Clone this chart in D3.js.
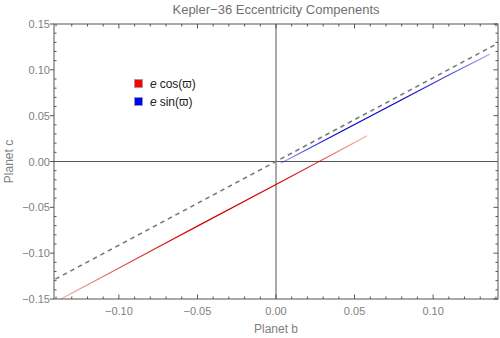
<!DOCTYPE html>
<html><head><meta charset="utf-8">
<script src="https://cdn.jsdelivr.net/npm/d3@7"></script>
<style>body{margin:0;background:#fff}svg{display:block}</style>
</head><body>
<svg id="c" width="500" height="338"></svg>
<script>
const title = "Kepler\u221236 Eccentricity Compenents";
const xLabel = "Planet b", yLabel = "Planet c";
const xTicks = [-0.10, -0.05, 0.00, 0.05, 0.10];
const yTicks = [-0.15, -0.10, -0.05, 0.00, 0.05, 0.10, 0.15];
// dashed reference line
const refX = [-0.15, 0.15];
const refY = [-0.137, 0.137];
// e cos(w) line with shading intensity along it
const cosX = [-0.137, -0.11, -0.08, -0.05, 0.00, 0.02, 0.04, 0.058];
const cosY = [-0.150, -0.1255, -0.098, -0.0705, -0.025, -0.0068, 0.0115, 0.028];
const cosA = [0.3, 0.55, 0.85, 1, 1, 0.8, 0.5, 0.3];
// e sin(w) line
const sinX = [0.003, 0.02, 0.04, 0.08, 0.11, 0.136];
const sinY = [-0.002, 0.0133, 0.0313, 0.0673, 0.0943, 0.117];
const sinA = [0.35, 0.7, 1, 1, 0.7, 0.35];
const legendLabels = ["cos(\u03d6)", "sin(\u03d6)"];
const legendColors = ["#ff0000", "#0000ff"];

const svg = d3.select("#c");
const L = 54, R = 498, T = 24, B = 299;
const x = d3.scaleLinear().domain([-0.1413, 0.1413]).range([L, R]);
const y = d3.scaleLinear().domain([-0.15, 0.15]).range([B, T]);
const frameC = "#555", txtC = "#808080";
const font = "'Liberation Sans', Arial, sans-serif";

const defs = svg.append("defs");
defs.append("clipPath").attr("id","clip").append("rect")
  .attr("x",L).attr("y",T).attr("width",R-L).attr("height",B-T);

// zero axes
svg.append("line").attr("x1",x(0)).attr("x2",x(0)).attr("y1",T).attr("y2",B)
  .attr("stroke",frameC).attr("stroke-width",1);
svg.append("line").attr("x1",L).attr("x2",R).attr("y1",y(0)).attr("y2",y(0))
  .attr("stroke",frameC).attr("stroke-width",1);

const g = svg.append("g").attr("clip-path","url(#clip)");
const line = d3.line().x(d=>x(d[0])).y(d=>y(d[1]));

function gradLine(id, xs, ys, as, color, w){
  const grad = defs.append("linearGradient").attr("id",id)
    .attr("gradientUnits","userSpaceOnUse")
    .attr("x1",x(xs[0])).attr("y1",y(ys[0]))
    .attr("x2",x(xs[xs.length-1])).attr("y2",y(ys[ys.length-1]));
  const span = xs[xs.length-1]-xs[0];
  xs.forEach((v,i)=>grad.append("stop").attr("offset",(v-xs[0])/span)
    .attr("stop-color",color).attr("stop-opacity",as[i]));
  g.append("path").datum(xs.map((v,i)=>[v,ys[i]])).attr("d",line)
    .attr("fill","none").attr("stroke",`url(#${id})`).attr("stroke-width",w);
}
g.append("path").datum(refX.map((v,i)=>[v,refY[i]])).attr("d",line)
  .attr("fill","none").attr("stroke","#7a7a7a").attr("stroke-width",1.6)
  .attr("stroke-dasharray","4.5,4");
gradLine("gc", cosX, cosY, cosA, "#d00000", 1.2);
gradLine("gs", sinX, sinY, sinA, "#0000d0", 1.2);

// frame
svg.append("rect").attr("x",L).attr("y",T).attr("width",R-L).attr("height",B-T)
  .attr("fill","none").attr("stroke",frameC).attr("stroke-width",1);

// ticks
const minorX = d3.range(-14,15).map(i=>i/100);
const minorY = d3.range(-15,16).map(i=>i/100);
const tk = svg.append("g").attr("stroke",frameC).attr("stroke-width",1);
minorX.forEach(v=>{
  const maj = xTicks.some(t=>Math.abs(t-v)<1e-9);
  const len = maj?4.5:2.5;
  tk.append("line").attr("x1",x(v)).attr("x2",x(v)).attr("y1",B).attr("y2",B-len);
  tk.append("line").attr("x1",x(v)).attr("x2",x(v)).attr("y1",T).attr("y2",T+len);
});
minorY.forEach(v=>{
  const maj = yTicks.some(t=>Math.abs(t-v)<1e-9);
  if(maj){
    tk.append("line").attr("x1",L-4).attr("x2",L).attr("y1",y(v)).attr("y2",y(v));
    tk.append("line").attr("x1",R).attr("x2",R-4.5).attr("y1",y(v)).attr("y2",y(v));
  } else {
    tk.append("line").attr("x1",L).attr("x2",L+2.5).attr("y1",y(v)).attr("y2",y(v));
    tk.append("line").attr("x1",R).attr("x2",R-2.5).attr("y1",y(v)).attr("y2",y(v));
  }
});
const fmt = d3.format(".2f");
const lab = v => fmt(v).replace("-", "\u2212");
svg.append("g").selectAll("text").data(xTicks).join("text")
  .attr("x",d=>x(d)).attr("y",315).attr("text-anchor","middle")
  .attr("font-family",font).attr("font-size",11).attr("fill",txtC).text(lab);
svg.append("g").selectAll("text").data(yTicks).join("text")
  .attr("x",50).attr("y",d=>y(d)+4).attr("text-anchor","end")
  .attr("font-family",font).attr("font-size",11).attr("fill",txtC).text(lab);

svg.append("text").attr("x",(L+R)/2).attr("y",14).attr("text-anchor","middle")
  .attr("font-family",font).attr("font-size",13).attr("fill","#707070").text(title);
svg.append("text").attr("x",(L+R)/2).attr("y",333).attr("text-anchor","middle")
  .attr("font-family",font).attr("font-size",12).attr("fill",txtC).text(xLabel);
svg.append("text").attr("transform",`translate(13,${(T+B)/2}) rotate(-90)`)
  .attr("text-anchor","middle").attr("font-family",font).attr("font-size",12)
  .attr("fill",txtC).text(yLabel);

// legend
const lg = svg.append("g");
legendLabels.forEach((t,i)=>{
  const yy = 79 + i*18;
  lg.append("rect").attr("x",134.5).attr("y",yy+0.5).attr("width",8).attr("height",8)
    .attr("fill",legendColors[i]).attr("stroke","#999").attr("stroke-width",0.8);
  const tx = lg.append("text").attr("x",150).attr("y",yy+9)
    .attr("font-family",font).attr("font-size",12).attr("fill","#222");
  tx.append("tspan").attr("font-style","italic").text("e");
  tx.append("tspan").attr("dx",3).text(t);
});
</script>
</body></html>
